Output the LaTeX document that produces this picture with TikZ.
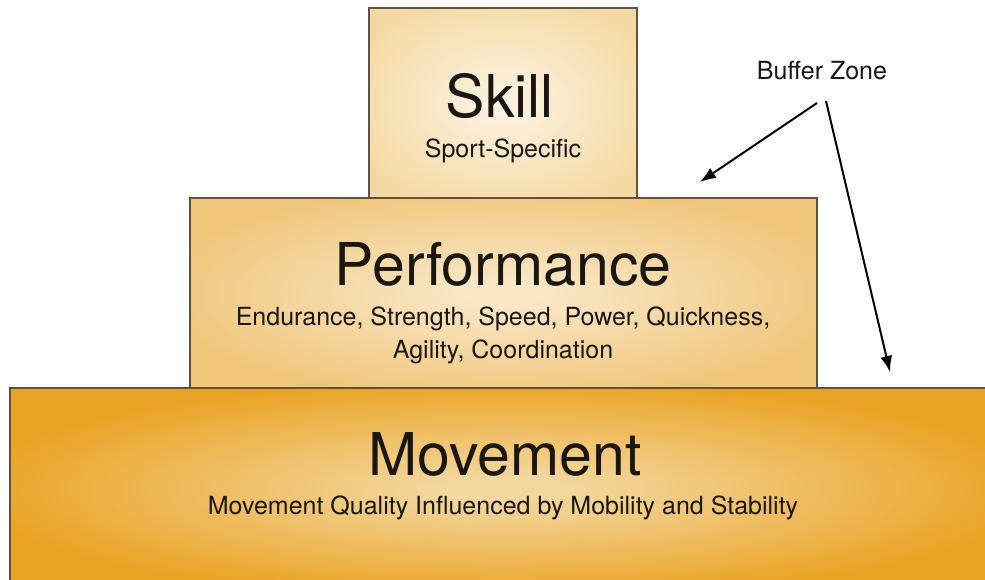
\documentclass[tikz,border=0pt]{standalone}
\usepackage{fontspec}
\setmainfont{TeX Gyre Heros}
\usetikzlibrary{arrows.meta}
\definecolor{skillE}{HTML}{F5D9A2}
\definecolor{skillC}{HTML}{FCF1DE}
\definecolor{perfE}{HTML}{F0C67B}
\definecolor{perfC}{HTML}{F9E7C6}
\definecolor{moveE}{HTML}{EAA324}
\definecolor{moveC}{HTML}{F3D79E}
\definecolor{edgecol}{HTML}{5E5242}
\definecolor{txt}{HTML}{1A1712}
\pgfdeclareradialshading{glowskill}{\pgfpoint{0bp}{0bp}}{color(0bp)=(skillC); color(3bp)=(skillC); color(30bp)=(skillE); color(50bp)=(skillE)}
\pgfdeclareradialshading{glowperf}{\pgfpoint{0bp}{0bp}}{color(0bp)=(perfC); color(3bp)=(perfC); color(28bp)=(perfE); color(50bp)=(perfE)}
\pgfdeclareradialshading{glowmove}{\pgfpoint{0bp}{0bp}}{color(0bp)=(moveC); color(3bp)=(moveC); color(27bp)=(moveE); color(50bp)=(moveE)}
\tikzset{
  tier/.style={rectangle, draw=edgecol, line width=1.3pt, inner sep=0pt},
  big/.style={anchor=base, text=txt, inner sep=0pt, font=\fontsize{59}{62}\selectfont},
  small/.style={anchor=base, text=txt, inner sep=0pt, font=\fontsize{25}{33}\selectfont, align=center},
  pointer/.style={draw=black, line width=2pt, -{Latex[length=16pt,width=12pt]}}
}
\begin{document}
\begin{tikzpicture}[x=1pt,y=-1pt]
\useasboundingbox (0,0) rectangle (985,580);
\clip (0,0) rectangle (985,580);
\fill[white] (0,0) rectangle (985,580);
% tiers
\node[tier, shading=glowmove, minimum width=990pt, minimum height=202pt] (move) at (505,489) {};
\node[tier, shading=glowperf, minimum width=627pt, minimum height=190pt] (perf) at (503.5,293) {};
\node[tier, shading=glowskill, minimum width=268pt, minimum height=190pt] (skill) at (503,103) {};
% texts
\node[big] (skillT) at (500,118) {Skill};
\node[small] (skillS) at (503,158) {Sport-Specific};
\node[big] (perfT) at (503,285) {Performance};
\node[small] (perfS1) at (503,325) {Endurance, Strength, Speed, Power, Quickness,};
\node[small] (perfS2) at (503,358) {Agility, Coordination};
\node[big] (moveT) at (505,475) {Movement};
\node[small] (moveS) at (503,514) {Movement Quality Influenced by Mobility and Stability};
\node[small] (buffer) at (822,80) {Buffer Zone};
% pointers
\coordinate (s1) at (817,103);
\coordinate (t1) at (700,182);
\coordinate (s2) at (826,101);
\coordinate (t2) at (890,372);
\draw[pointer] (s1) -- (t1);
\draw[pointer] (s2) -- (t2);
\end{tikzpicture}
\end{document}
